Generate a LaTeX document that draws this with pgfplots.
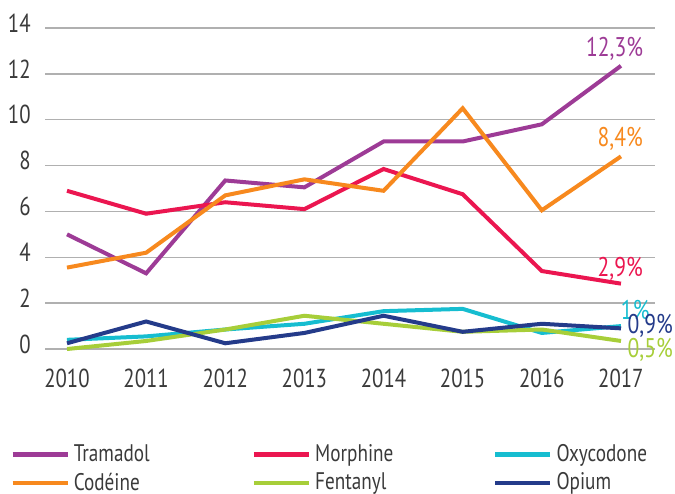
\documentclass[border=0pt]{standalone}
\usepackage{pgfplots}
\pgfplotsset{compat=1.18}
\usepackage{fontspec}
\setmainfont[FakeStretch=0.8]{PT Sans}
\definecolor{ctram}{HTML}{9D3B96}
\definecolor{cmorph}{HTML}{EB1650}
\definecolor{coxy}{HTML}{16BDD0}
\definecolor{ccod}{HTML}{F7891E}
\definecolor{cfent}{HTML}{A7CE39}
\definecolor{copium}{HTML}{243B8A}
\definecolor{textc}{HTML}{3A3A3A}
\definecolor{gridc}{HTML}{B0B0B0}
\begin{document}
\fontsize{12}{14}\selectfont
\begin{tikzpicture}
\useasboundingbox (0,0) rectangle (337.5pt,246.5pt);
\begin{axis}[
  at={(22.5pt,72pt)}, anchor=south west,
  scale only axis, width=305pt, height=160.5pt,
  xmin=2009.722, xmax=2017.43, ymin=0, ymax=14,
  clip=false,
  axis line style={draw=none},
  major tick style={draw=none},
  ymajorgrids, grid style={line width=0.75pt, color=gridc},
  ytick={0,2,...,14}, xtick={2010,...,2017},
  /pgf/number format/assume math mode=true,
  ticklabel style={font=\fontsize{13}{15}\selectfont, text=textc},
  xticklabel style={/pgf/number format/1000 sep={}, yshift=-6pt},
  yticklabel style={anchor=east, xshift=-3pt, yshift=2.5pt},
  every axis plot/.append style={line width=2pt, mark=none},
  legend columns=3,
  legend cell align=left,
  legend image code/.code={\draw[#1, line width=2.2pt] (0pt,0pt) -- (27.5pt,0pt);},
  legend style={draw=none, fill=none, at={(-0.0574,-0.2825)}, anchor=north west,
    inner sep=0pt, row sep=0pt, font=\fontsize{12}{14}\selectfont, text=textc},
]
\addplot[color=ctram] coordinates {(2010,5.0) (2011,3.3) (2012,7.35) (2013,7.05) (2014,9.05) (2015,9.05) (2016,9.8) (2017,12.35)};
\addlegendentry[text width=87pt]{Tramadol}
\addplot[color=cmorph] coordinates {(2010,6.9) (2011,5.9) (2012,6.4) (2013,6.1) (2014,7.85) (2015,6.75) (2016,3.4) (2017,2.85)};
\addlegendentry[text width=87pt]{Morphine}
\addplot[color=coxy] coordinates {(2010,0.4) (2011,0.55) (2012,0.85) (2013,1.1) (2014,1.65) (2015,1.75) (2016,0.7) (2017,1.0)};
\addlegendentry{Oxycodone}
\addplot[color=ccod] coordinates {(2010,3.55) (2011,4.2) (2012,6.7) (2013,7.4) (2014,6.9) (2015,10.5) (2016,6.05) (2017,8.4)};
\addlegendentry[text width=87pt]{Codéine}
\addplot[color=cfent] coordinates {(2010,0.0) (2011,0.35) (2012,0.85) (2013,1.45) (2014,1.1) (2015,0.75) (2016,0.85) (2017,0.35)};
\addlegendentry[text width=87pt]{Fentanyl}
\addplot[color=copium] coordinates {(2010,0.25) (2011,1.2) (2012,0.25) (2013,0.7) (2014,1.45) (2015,0.75) (2016,1.1) (2017,0.9)};
\addlegendentry{Opium}
\begin{scope}[every node/.style={font=\fontsize{13.5}{15}\selectfont}]
\node[text=ctram] at (axis cs:2016.92,13.1) {12,3\%};
\node[text=ccod] at (axis cs:2016.99,9.18) {8,4\%};
\node[text=cmorph] at (axis cs:2016.99,3.5) {2,9\%};
\node[text=coxy] at (axis cs:2017.18,1.68) {1\%};
\node[text=copium] at (axis cs:2017.37,1.0) {0,9\%};
\node[text=cfent] at (axis cs:2017.37,-0.06) {0,5\%};
\end{scope}
\end{axis}
\end{tikzpicture}
\end{document}
